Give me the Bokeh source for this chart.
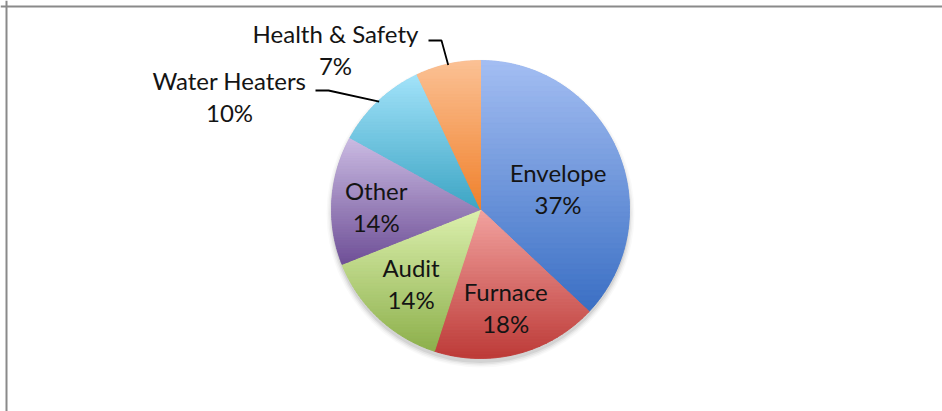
import numpy as np
from bokeh.plotting import figure
from bokeh.models import Range1d, Span
from bokeh.core.properties import value
from bokeh.embed import file_html
from bokeh.resources import INLINE

# ---- data ----
categories = ["Envelope", "Furnace", "Audit", "Other", "Water Heaters", "Health & Safety"]
shares = [37, 18, 14, 14, 10, 7]
pct_labels = ["37%", "18%", "14%", "14%", "10%", "7%"]

# ---- styles ----
top_colors = ["#A4BEF2", "#F2A3A0", "#DCF0AE", "#CBBCE3", "#A3E3FA", "#FBC195"]
bottom_colors = ["#3A6FC4", "#BD3B38", "#8DB04C", "#6F5097", "#3DA5C4", "#F0812C"]
FONT = "Lato"
FONT_SIZE = "24px"
TEXT_COLOR = "#141414"

# ---- layout (data units == pixels, y measured upward from the bottom) ----
W, H = 942, 411
CX, CY, R = 480, 202, 149
inside_rf = [0.54, 0.68, 0.68, 0.70]
inside_nudge_deg = [8, 0, 0, -2]
outside_label_xy = {4: (229, 315), 5: (335, 362)}
leader_start = {4: (315, 321), 5: (428, 371)}
leader_run = 13
LINE_GAP = 16

p = figure(width=W, height=H, x_range=Range1d(0, W), y_range=Range1d(0, H),
           output_backend="svg", toolbar_location=None, min_border=0)
p.axis.visible = False
p.grid.visible = False
p.outline_line_color = None
p.background_fill_color = "white"
p.border_fill_color = "white"

# chart border (top and left visible)
p.add_layout(Span(location=H - 6, dimension="width", line_color="#8a8a8a", line_width=2))
p.add_layout(Span(location=6, dimension="height", line_color="#8a8a8a", line_width=2))

fr = np.array(shares, dtype=float) / sum(shares)
cum = np.concatenate([[0.0], np.cumsum(fr)])
th0 = cum[:-1] * 2 * np.pi
th1 = cum[1:] * 2 * np.pi
mid = (th0 + th1) / 2

# soft shadow below the pie
for dr, a in [(5, 0.025), (3.5, 0.035), (2, 0.05), (0.5, 0.07)]:
    p.circle(x=CX, y=CY - 4, radius=R + dr, fill_color="black", fill_alpha=a, line_color=None)


def hex2rgb(h):
    h = h.lstrip("#")
    return np.array([int(h[i:i + 2], 16) for i in (0, 2, 4)], dtype=float)


def rgb2hex(c):
    c = np.clip(np.round(c), 0, 255).astype(int)
    return "#%02x%02x%02x" % tuple(c)


mid_colors = [rgb2hex((hex2rgb(a) + hex2rgb(b)) / 2) for a, b in zip(top_colors, bottom_colors)]

# base slices
p.wedge(x=CX, y=CY, radius=R, start_angle=list(np.pi / 2 - th0), end_angle=list(np.pi / 2 - th1),
        direction="clock", fill_color=mid_colors, line_color=None)


def intersect(a, b, yb):
    t = (yb - a[1]) / (b[1] - a[1])
    return (a[0] + t * (b[0] - a[0]), yb)


def clip_half(pts, yb, keep_above):
    out = []
    n = len(pts)
    for i in range(n):
        cur = pts[i]
        prev = pts[i - 1]
        cin = cur[1] >= yb if keep_above else cur[1] <= yb
        pin = prev[1] >= yb if keep_above else prev[1] <= yb
        if cin:
            if not pin:
                out.append(intersect(prev, cur, yb))
            out.append(cur)
        elif pin:
            out.append(intersect(prev, cur, yb))
    return out


# vertical gradient overlay of each slice
bxs, bys, bcols = [], [], []
NB = 48
for i in range(len(shares)):
    th = np.linspace(th0[i], th1[i], 240)
    poly = [(CX, CY)] + list(zip(CX + R * np.sin(th), CY + R * np.cos(th)))
    ys = [q[1] for q in poly]
    ymin, ymax = min(ys), max(ys)
    ct, cb = hex2rgb(top_colors[i]), hex2rgb(bottom_colors[i])
    edges = np.linspace(ymax, ymin, NB + 1)
    for k in range(NB):
        hi, lo = edges[k], edges[k + 1]
        part = clip_half(poly, lo, True)
        if not part:
            continue
        part = clip_half(part, hi, False)
        if len(part) < 3:
            continue
        f = (ymax - (hi + lo) / 2) / (ymax - ymin)
        col = rgb2hex(ct * (1 - f) + cb * f)
        bxs.append([q[0] for q in part])
        bys.append([q[1] for q in part])
        bcols.append(col)
p.patches(xs=bxs, ys=bys, fill_color=bcols, line_color=bcols, line_width=1)

# labels: category name above, percentage below
lx, ly = [], []
for i in range(len(shares)):
    if i in outside_label_xy:
        x, y = outside_label_xy[i]
    else:
        a = mid[i] + np.deg2rad(inside_nudge_deg[i])
        x = CX + inside_rf[i] * R * np.sin(a)
        y = CY + inside_rf[i] * R * np.cos(a)
    lx.append(x)
    ly.append(y)
common = dict(text_align="center", text_baseline="middle", text_font=value(FONT),
              text_font_size=FONT_SIZE, text_color=TEXT_COLOR)
p.text(x=lx, y=[v + LINE_GAP for v in ly], text=categories, **common)
p.text(x=lx, y=[v - LINE_GAP for v in ly], text=pct_labels, **common)

# leader lines
mx, my = [], []
for i, (sx, sy) in leader_start.items():
    ex = CX + (R - 1) * np.sin(mid[i])
    ey = CY + (R - 1) * np.cos(mid[i])
    mx.append([sx, sx + leader_run, ex])
    my.append([sy, sy, ey])
p.multi_line(xs=mx, ys=my, line_color="black", line_width=1.8)

open("out.html", "w").write(file_html(p, INLINE))
